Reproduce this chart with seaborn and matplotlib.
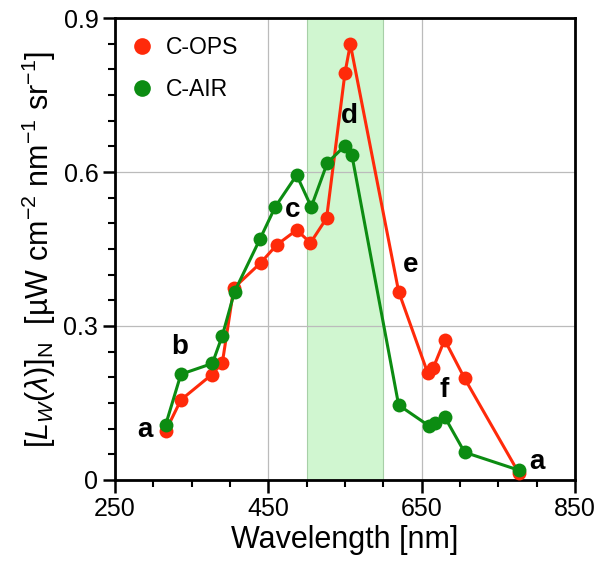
import numpy as np
import pandas as pd
import matplotlib
matplotlib.use("Agg")
import matplotlib.pyplot as plt
import seaborn as sns
from matplotlib.ticker import MultipleLocator

# C-OPS (red) and C-AIR (green) normalized water-leaving radiance
ops_wl = [316, 336, 376, 390, 405, 440, 461, 487, 505, 526, 550, 557, 620, 658, 665, 680, 706, 777]
ops_lw = [0.095, 0.156, 0.205, 0.228, 0.374, 0.423, 0.458, 0.487, 0.462, 0.510, 0.793, 0.849,
          0.367, 0.208, 0.218, 0.273, 0.198, 0.013]
air_wl = [316, 336, 377, 390, 406, 439, 459, 487, 506, 527, 550, 559, 620, 660, 667, 680, 706, 777]
air_lw = [0.107, 0.206, 0.227, 0.281, 0.367, 0.469, 0.532, 0.594, 0.532, 0.618, 0.651, 0.633,
          0.146, 0.105, 0.111, 0.123, 0.054, 0.019]
series = ["C-OPS", "C-AIR"]
colors = ["#ff2a0a", "#0c8c12"]

xticks = [250, 450, 650, 850]
yticks = [0, 0.3, 0.6, 0.9]
ytick_labels = ["0", "0.3", "0.6", "0.9"]

point_labels = ["a", "b", "c", "d", "e", "f", "a"]
label_x = [289, 335, 482, 556, 635, 680, 800]
label_y = [0.097, 0.259, 0.526, 0.709, 0.419, 0.175, 0.035]

df = pd.DataFrame({
    "wl": ops_wl + air_wl,
    "lw": ops_lw + air_lw,
    "sensor": [series[0]] * len(ops_wl) + [series[1]] * len(air_wl),
})

sns.set_style("white")
plt.rcParams["font.family"] = ["Liberation Sans", "DejaVu Sans"]
plt.rcParams["text.color"] = "black"
plt.rcParams["axes.labelcolor"] = "black"
plt.rcParams["xtick.color"] = "black"
plt.rcParams["ytick.color"] = "black"
plt.rcParams["mathtext.fontset"] = "custom"
plt.rcParams["mathtext.rm"] = "Liberation Sans"
plt.rcParams["mathtext.it"] = "Liberation Sans:italic"

fig = plt.figure(figsize=(5.97, 5.61), dpi=100)
ax = fig.add_axes([0.1926, 0.1444, 0.7705, 0.8235])

ax.axvspan(500, 600, color="#c8f5c8", alpha=0.85, zorder=0, lw=0.8, ec="#9cc89c")

sns.lineplot(data=df, x="wl", y="lw", hue="sensor", palette=dict(zip(series, colors)),
             sort=False, marker="o", markersize=10, markeredgewidth=0, linewidth=2.2,
             ax=ax, zorder=3)

for t, x, y in zip(point_labels, label_x, label_y):
    ax.text(x, y, t, fontsize=20, fontweight="bold", ha="center", va="center", zorder=5)

ax.set_xlim(250, 850)
ax.set_ylim(0, 0.9)
ax.set_xticks(xticks)
ax.xaxis.set_minor_locator(MultipleLocator(50))
ax.set_yticks(yticks)
ax.set_yticklabels(ytick_labels)
ax.yaxis.set_minor_locator(MultipleLocator(0.05))
ax.tick_params(which="major", direction="out", length=9, width=1.8, labelsize=18, bottom=True, left=True, pad=3)
ax.tick_params(which="minor", direction="out", length=5, width=1.5, bottom=True, left=True)
ax.grid(True, which="major", color="#bbbbbb", lw=0.9, zorder=1)
ax.set_axisbelow(True)
for s in ax.spines.values():
    s.set_linewidth(2)
    s.set_color("black")

ax.set_xlabel("Wavelength [nm]", fontsize=22, labelpad=3)
ax.set_ylabel(r"$[L_W(\lambda)]_\mathrm{N}$  [µW cm$^{-2}$ nm$^{-1}$ sr$^{-1}$]", fontsize=22, labelpad=4)

leg = ax.legend(loc="upper left", frameon=False, fontsize=16.5, handlelength=0.8,
                labelspacing=0.8, borderaxespad=0.4, handletextpad=0.6)
for h in leg.get_lines():
    h.set_linestyle("none")
    h.set_markersize(12)

fig.savefig("out.png", dpi=100)
